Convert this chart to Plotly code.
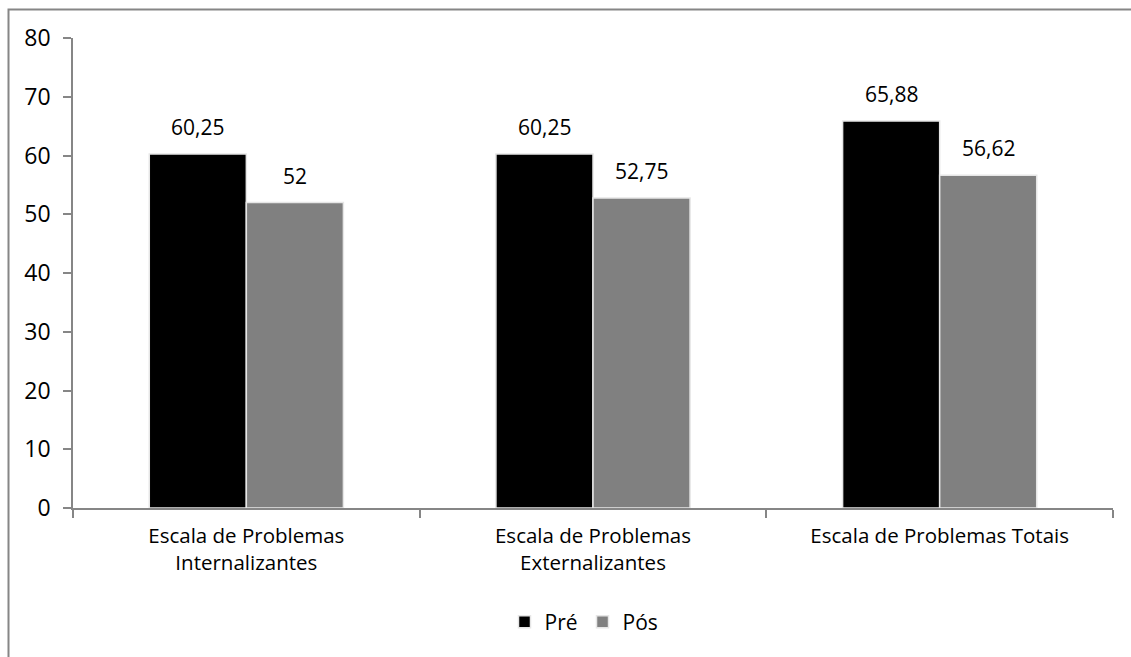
import plotly.graph_objects as go

# Chart data
categories = [
    "Escala de Problemas<br>Internalizantes",
    "Escala de Problemas<br>Externalizantes",
    "Escala de Problemas Totais",
]
pre_values = [60.25, 60.25, 65.88]
pos_values = [52, 52.75, 56.62]
series_names = ["Pré", "Pós"]
y_ticks = [0, 10, 20, 30, 40, 50, 60, 70, 80]


def fmt(v):
    return f"{v:g}".replace(".", ",")


W, H = 1131, 657
ML, MR, MT, MB = 73, 18, 38, 149
FONT = "Open Sans, sans-serif"
AXIS_GRAY = "#868686"
BAR_OFFSET = 48.5  # half of one bar's pixel width inside a group

fig = go.Figure()
for name, vals, color in [
    (series_names[0], pre_values, "#000000"),
    (series_names[1], pos_values, "#808080"),
]:
    fig.add_trace(go.Bar(
        x=categories,
        y=vals,
        name=name,
        marker=dict(color=color, line=dict(color="#e6e6e6", width=1.5)),
    ))

# Value labels above each bar
for vals, shift in [(pre_values, -BAR_OFFSET), (pos_values, BAR_OFFSET)]:
    for cat, v in zip(categories, vals):
        fig.add_annotation(
            x=cat, y=v, xref="x", yref="y",
            text=fmt(v), showarrow=False,
            xshift=shift, yshift=11, yanchor="bottom",
            font=dict(family=FONT, size=21, color="#000000"),
        )

# Outer frame of the chart area (extends past the right and bottom edges)
pw, ph = W - ML - MR, H - MT - MB
def px_x(p):
    return (p - ML) / pw
def px_y(p):
    return (H - MB - p) / ph

fig.add_shape(
    type="rect", xref="paper", yref="paper",
    x0=px_x(8.5), x1=px_x(1145), y0=px_y(9.5), y1=px_y(680),
    line=dict(color=AXIS_GRAY, width=2), fillcolor="rgba(0,0,0,0)",
    layer="below",
)

fig.update_layout(
    width=W, height=H,
    margin=dict(l=ML, r=MR, t=MT, b=MB),
    paper_bgcolor="white", plot_bgcolor="white",
    barmode="group",
    bargap=0.44,
    bargroupgap=0.0,
    font=dict(family=FONT, color="#000000"),
    showlegend=True,
    legend=dict(
        orientation="h", x=px_x(584), xanchor="center", y=px_y(622), yanchor="middle",
        font=dict(family=FONT, size=21),
        itemwidth=30,
    ),
    xaxis=dict(
        type="category",
        showline=True, linecolor=AXIS_GRAY, linewidth=1.5,
        ticks="outside", tickson="boundaries", ticklen=8,
        tickcolor=AXIS_GRAY, tickwidth=1.5,
        tickfont=dict(family=FONT, size=20.5),
        ticklabelstandoff=9,
        showgrid=False, zeroline=False,
    ),
    yaxis=dict(
        range=[0, 80],
        tickvals=y_ticks,
        showline=True, linecolor=AXIS_GRAY, linewidth=1.5,
        ticks="outside", ticklen=8, tickcolor=AXIS_GRAY, tickwidth=1.5,
        tickfont=dict(family=FONT, size=23),
        ticklabelstandoff=8,
        showgrid=False, zeroline=False,
    ),
)

fig.write_html("out.html")
